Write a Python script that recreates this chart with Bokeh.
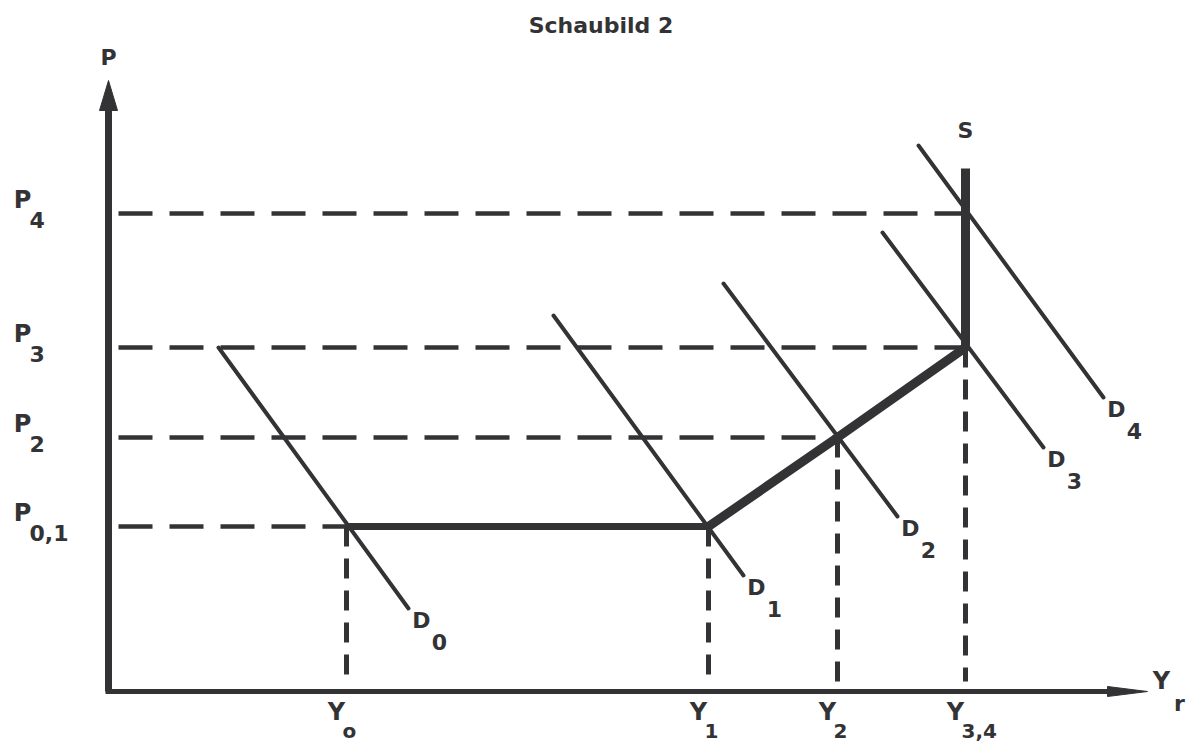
from bokeh.plotting import figure
from bokeh.models import Range1d, ColumnDataSource
from bokeh.core.properties import value
from bokeh.embed import file_html
from bokeh.resources import INLINE

# ---------------- data ----------------
title_text = "Schaubild 2"
# real output levels Y0, Y1, Y2, Y3,4
quantities = [2.38, 6.00, 7.29, 8.57]
quantity_subs = ["o", "1", "2", "3,4"]
quantity_prices = [1.65, 1.65, 2.54, 3.44]
# price levels P0,1, P2, P3, P4
prices = [1.65, 2.54, 3.44, 4.78]
price_subs = ["0,1", "2", "3", "4"]
price_qty = [2.38, 7.29, 8.57, 8.57]
# demand curves D0..D4 (start and end points)
demand_x0 = [1.10, 4.45, 6.15, 7.74, 8.10]
demand_y0 = [3.44, 3.76, 4.08, 4.59, 5.46]
demand_x1 = [3.00, 6.35, 7.89, 9.35, 9.95]
demand_y1 = [0.83, 1.16, 1.75, 2.44, 2.94]
demand_subs = ["0", "1", "2", "3", "4"]
# supply curve S
supply_x = [2.38, 6.00, 7.29, 8.57, 8.57]
supply_y = [1.65, 1.65, 2.54, 3.44, 5.23]
# axes extents
x_axis_end = 10.39
y_axis_end = 6.11

INK = "#333336"
FONT = value("DejaVu Sans")
PX = 0.01  # data units per pixel

p = figure(width=1191, height=745, output_backend="svg", toolbar_location=None,
           x_range=Range1d(-1.08, 10.83), y_range=Range1d(-0.54, 6.91),
           min_border=0, background_fill_color="white", border_fill_color="white")
p.axis.visible = False
p.grid.visible = False
p.outline_line_color = None

# ---- axes with arrowheads ----
p.segment(x0=[0], y0=[0], x1=[0], y1=[y_axis_end - 28 * PX], line_width=7, line_color=INK)
p.segment(x0=[-3 * PX], y0=[0], x1=[x_axis_end - 36 * PX], y1=[0], line_width=5, line_color=INK)
p.patch(x=[0, -9 * PX, 9 * PX], y=[y_axis_end, y_axis_end - 30 * PX, y_axis_end - 30 * PX],
        color=INK)
p.patch(x=[x_axis_end, x_axis_end - 40 * PX, x_axis_end - 40 * PX],
        y=[0, 5 * PX, -5 * PX], color=INK)

# ---- dashed guide lines ----
p.segment(x0=[10 * PX] * len(prices), y0=prices, x1=price_qty, y1=prices,
          line_width=4.5, line_color=INK, line_dash="34 17")
p.segment(x0=quantities, y0=quantity_prices, x1=quantities, y1=[10 * PX] * len(quantities),
          line_width=5, line_color=INK, line_dash="20 12")

# ---- demand curves ----
p.segment(x0=demand_x0, y0=demand_y0, x1=demand_x1, y1=demand_y1,
          line_width=4, line_color=INK, line_cap="round")

# ---- supply curve ----
p.line(x=supply_x[:2], y=supply_y[:2], line_width=7, line_color=INK)
p.line(x=supply_x[1:], y=supply_y[1:], line_width=9, line_color=INK,
       line_join="round")

# ---- labels ----
def label(x, y, texts, size, align="center", xo=0, yo=0, style="bold"):
    src = ColumnDataSource(dict(x=x, y=y, t=texts))
    p.text(x="x", y="y", text="t", source=src, text_font=FONT, text_font_style=style,
           text_font_size=f"{size}px", text_color=INK, text_align=align,
           text_baseline="middle", x_offset=xo, y_offset=yo)

# title
label([(p.x_range.start + p.x_range.end) / 2 + 0.05], [y_axis_end + 0.55], [title_text], 22)
# axis names
label([0], [y_axis_end + 0.23], ["P"], 22)
label([x_axis_end], [0], ["Y"], 24, xo=14, yo=-11)
label([x_axis_end], [0], ["r"], 22, xo=32, yo=12)
# S
label([supply_x[-1]], [supply_y[-1]], ["S"], 22, yo=-38)

# price labels
label([0] * len(prices), prices, ["P"] * len(prices), 24, xo=-86, yo=-14)
label([0] * len(prices), prices, price_subs, 22, align="left", xo=-79, yo=6)

# quantity labels
label(quantities, [0] * len(quantities), ["Y"] * len(quantities), 24, xo=-10, yo=20)
label(quantities, [0] * len(quantities), quantity_subs, 20, align="left", xo=-4, yo=39)

# demand labels
label(demand_x1, demand_y1, ["D"] * len(demand_x1), 22, xo=13, yo=12)
label(demand_x1, demand_y1, demand_subs, 22, xo=31, yo=33)

open("out.html", "w").write(file_html(p, INLINE))
